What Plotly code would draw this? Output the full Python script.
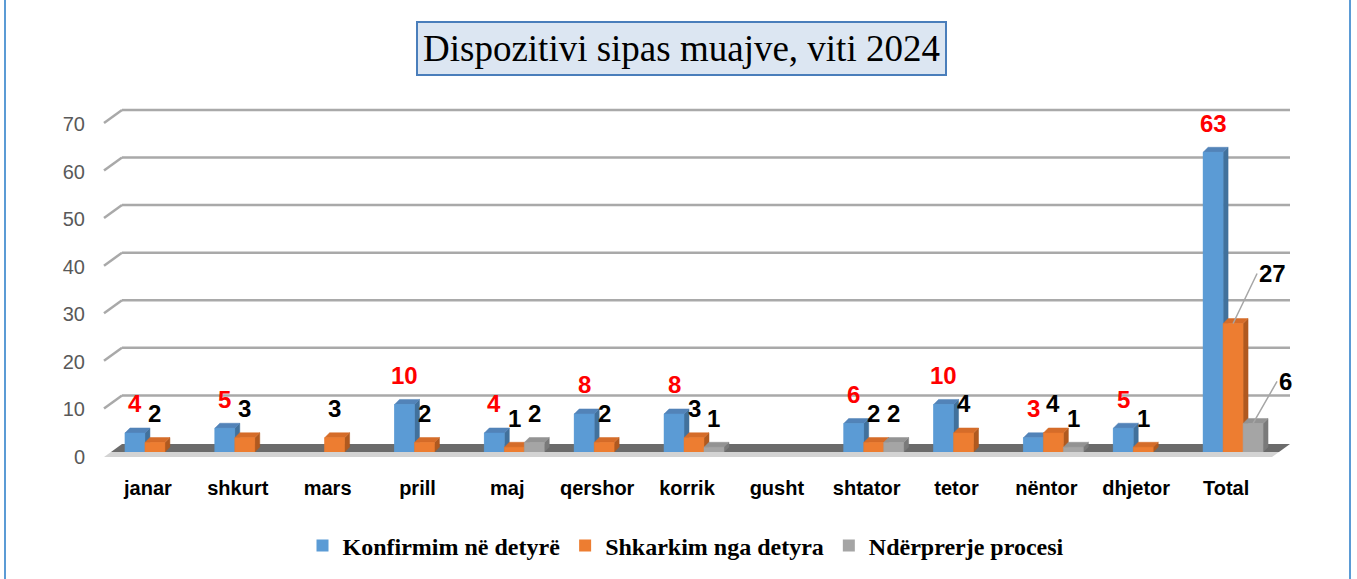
import plotly.graph_objects as go

# ---- data ----
categories = ["janar", "shkurt", "mars", "prill", "maj", "qershor", "korrik",
              "gusht", "shtator", "tetor", "nëntor", "dhjetor", "Total"]
konfirmim = [4, 5, 0, 10, 4, 8, 8, 0, 6, 10, 3, 5, 63]
shkarkim = [2, 3, 3, 2, 1, 2, 3, 0, 2, 4, 4, 1, 27]
nderprerje = [0, 0, 0, 0, 2, 0, 1, 0, 2, 0, 1, 0, 6]
series_names = ["Konfirmim në detyrë", "Shkarkim nga detyra", "Ndërprerje procesi"]
y_ticks = [0, 10, 20, 30, 40, 50, 60, 70]

# ---- style ----
front_c = ["#5b9bd5", "#ed7d31", "#a5a5a5"]
side_c = ["#41719c", "#b0591f", "#7a7a7a"]
top_c = ["#5283b8", "#d56c29", "#939393"]
label_colors = ["#ff0000", "#000000", "#000000"]
W, H = 1357, 579
ML, MR, MT, MB = 110, 79, 105, 126
PX_PER_UNIT = (H - MB - 119) / 70.0   # 70 sits at y=119 px
plot_w = W - ML - MR
plot_h = H - MT - MB
YMAX = plot_h / PX_PER_UNIT
band_px = plot_w / len(categories)
bargap = 0.333
w = (1 - bargap) / 3                 # bar width in category units
dx = 5 / band_px                      # 3D depth (x, data units)
dy = 5 / PX_PER_UNIT                  # 3D depth (y, data units)

px_x = lambda p: (p - ML) / plot_w
px_y = lambda p: (H - MB - p) / plot_h

idx = list(range(len(categories)))
all_series = [konfirmim, shkarkim, nderprerje]

fig = go.Figure()
for name, vals, c in zip(series_names, all_series, front_c):
    fig.add_trace(go.Bar(x=idx, y=vals, name=name, marker=dict(color=c, line=dict(width=0)),
                         hoverinfo="skip"))

# 3D faces drawn in painter's order (left series first)
for i, vals in enumerate(all_series):
    fx, fy, sx, sy, tx, ty = [], [], [], [], [], []
    for k, v in zip(idx, vals):
        if v == 0:
            continue
        xc = k + (i - 1) * w
        xl, xr = xc - w / 2, xc + w / 2
        fx += [xl, xr, xr, xl, xl, None]
        fy += [0, 0, v, v, 0, None]
        sx += [xr, xr + dx, xr + dx, xr, xr, None]
        sy += [0, dy, v + dy, v, 0, None]
        tx += [xl, xr, xr + dx, xl + dx, xl, None]
        ty += [v, v, v + dy, v + dy, v, None]
    for xs, ys, col in ((sx, sy, side_c[i]), (tx, ty, top_c[i]), (fx, fy, front_c[i])):
        fig.add_trace(go.Scatter(x=xs, y=ys, mode="lines", fill="toself",
                                 fillcolor=col, line=dict(color=col, width=0.5),
                                 hoverinfo="skip", showlegend=False))

annotations = []
for i, (vals, lc) in enumerate(zip(all_series, label_colors)):
    for k, cat, v in zip(idx, categories, vals):
        if v == 0:
            continue
        xc = k + (i - 1) * w
        if cat == "Total" and i > 0:
            annotations.append(dict(
                x=xc, y=v, xref="x", yref="y",
                text=f"<b>{v}</b>", showarrow=True, arrowhead=0,
                arrowcolor="#a6a6a6", arrowwidth=1.5,
                ax=24, ay=-50 if i == 1 else -42,
                xanchor="left", yanchor="middle",
                font=dict(family="Liberation Sans", size=24, color=lc),
            ))
        else:
            annotations.append(dict(
                x=xc, y=v, xref="x", yref="y", yshift=29,
                text=f"<b>{v}</b>", showarrow=False,
                xanchor="center", yanchor="middle",
                font=dict(family="Liberation Sans", size=24, color=lc),
            ))

# title box
annotations.append(dict(
    text="Dispozitivi sipas muajve, viti 2024",
    xref="paper", yref="paper",
    x=px_x(681), y=px_y(48),
    xanchor="center", yanchor="middle", showarrow=False,
    font=dict(family="Liberation Serif", size=37, color="#000000"),
    bgcolor="#dce6f2", bordercolor="#4a7ebb", borderwidth=2, borderpad=5,
))

GRID = "#a9a9a9"
shapes = []
# back-wall gridlines with slanted left stubs (pseudo 3D)
for t in y_ticks[1:]:
    shapes.append(dict(type="line", xref="paper", yref="y", ysizemode="pixel", yanchor=t,
                       x0=px_x(122), x1=px_x(1290), y0=9, y1=9,
                       line=dict(color=GRID, width=2.5), layer="below"))
    shapes.append(dict(type="line", xref="paper", yref="y", ysizemode="pixel", yanchor=t,
                       x0=px_x(104), x1=px_x(122), y0=-4, y1=9,
                       line=dict(color=GRID, width=2.5), layer="below"))


def para(xa, ya, xb, yb, xc, yc, xd, yd):
    return (f"M {px_x(xa)} {px_y(ya)} L {px_x(xb)} {px_y(yb)} "
            f"L {px_x(xc)} {px_y(yc)} L {px_x(xd)} {px_y(yd)} Z")


# floor plane
shapes.append(dict(type="path", xref="paper", yref="paper",
                   path=para(111, 453, 122, 445, 1290, 445, 1279, 453),
                   fillcolor="#6b6b6b", line=dict(width=0), layer="below"))
shapes.append(dict(type="path", xref="paper", yref="paper",
                   path=para(104, 458, 111, 453, 1279, 453, 1272, 458),
                   fillcolor="#d3d3d3", line=dict(width=0), layer="below"))
# outer frame
shapes.append(dict(type="rect", xref="paper", yref="paper",
                   x0=px_x(5), x1=px_x(1350), y0=px_y(H + 10), y1=px_y(-10),
                   line=dict(color="#5b9bd5", width=2), fillcolor="rgba(0,0,0,0)"))

fig.update_layout(
    width=W, height=H,
    margin=dict(l=ML, r=MR, t=MT, b=MB),
    paper_bgcolor="white", plot_bgcolor="rgba(0,0,0,0)",
    barmode="group", bargap=bargap, bargroupgap=0,
    showlegend=True,
    legend=dict(orientation="h", x=px_x(686), xanchor="center",
                y=px_y(546), yanchor="middle",
                font=dict(family="Liberation Serif", size=24, color="#000000",
                          weight="bold"),
                itemclick=False, itemdoubleclick=False),
    xaxis=dict(range=[-0.5, len(categories) - 0.5], tickvals=idx, ticktext=categories,
               showgrid=False, zeroline=False, showline=False, ticks="",
               ticklabelstandoff=22, ticklabelshift=-7,
               tickfont=dict(family="Liberation Sans", size=20, color="#000000",
                             weight="bold")),
    yaxis=dict(range=[0, YMAX], tickvals=y_ticks, showgrid=False,
               zeroline=False, showline=False, ticks="", ticklabelstandoff=24,
               ticklabelshift=5,
               tickfont=dict(family="Liberation Sans", size=20, color="#595959")),
    annotations=annotations,
    shapes=shapes,
)

fig.write_html("out.html", config={"displayModeBar": False},
               post_script="document.body.style.margin='0';document.body.style.overflow='hidden';")
